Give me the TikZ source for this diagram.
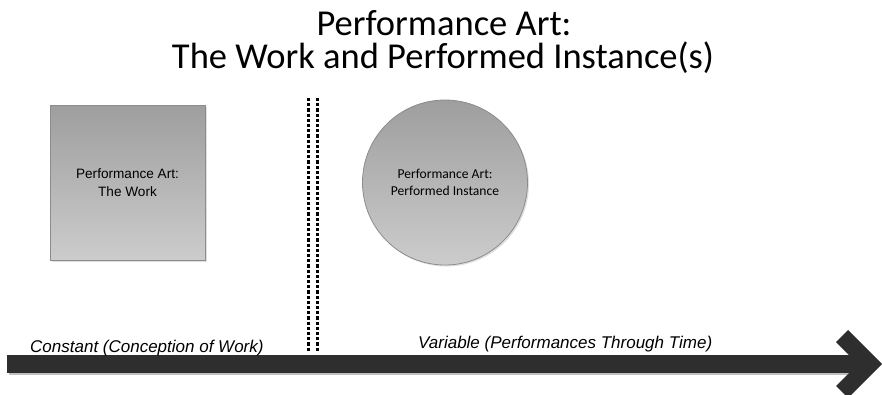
\documentclass[tikz,border=0pt]{standalone}
\usepackage{fontspec}
\setmainfont{Carlito}
\newfontfamily\arialfont{Liberation Sans}
\usetikzlibrary{positioning, calc, shadows}

\begin{document}
\begin{tikzpicture}[x=1pt, y=-1pt,
    titletext/.style={font=\fontsize{36.5}{31}\selectfont, inner sep=0pt, anchor=base,
      text height=24pt, text depth=6pt},
    artbox/.style={draw=black!45, line width=0.8pt, top color=black!38, bottom color=black!20,
      drop shadow={opacity=0.25, shadow xshift=1.5pt, shadow yshift=-1.5pt}},
    axislabel/.style={font=\arialfont\itshape\fontsize{17}{20}\selectfont, inner sep=0pt},
    divider/.style={line width=3pt, dash pattern=on 3.2pt off 2pt}]
  \useasboundingbox (0,0) rectangle (882,394);

  % title
  \node[titletext] (title) at (444,35) {Performance Art:};
  \node[titletext] (subtitle) at (443,68) {The Work and Performed Instance(s)};

  % the work and the performed instance
  \node[artbox, rectangle, minimum width=155pt, minimum height=155pt,
    font=\arialfont\fontsize{13.6}{18.5}\selectfont, align=center] (work) at (127.5,182.5)
    {Performance Art:\\The Work};
  \node[artbox, circle, minimum size=165pt, inner sep=0pt,
    font=\fontsize{13.6}{16.5}\selectfont, align=center] (instance) at (445,182.5)
    {Performance Art:\\Performed Instance};

  % dotted divider
  \coordinate (divA top) at (308,98);
  \coordinate (divA bot) at (308,352);
  \coordinate (divB top) at (317,98);
  \coordinate (divB bot) at (317,352);
  \draw[divider] (divA top) -- (divA bot);
  \draw[divider] (divB top) -- (divB bot);

  % time axis
  \coordinate (axis start) at (7,364);
  \coordinate (axis end) at (862,364);
  \coordinate (tip) at (870,364);
  \draw[black!25, line width=18pt] ($(axis start)+(1.5,1.5)$) -- ($(axis end)+(1.5,1.5)$);
  \draw[black!82, line width=18pt] (axis start) -- (axis end);
  \draw[black!82, line width=17pt, line join=miter] ($(tip)+(-28,-28)$) -- (tip) -- ($(tip)+(-28,28)$);

  \node[axislabel, anchor=base west] (constant) at (30,352) {Constant (Conception of Work)};
  \node[axislabel, anchor=base west] (variable) at (418,348) {Variable (Performances Through Time)};
\end{tikzpicture}
\end{document}
